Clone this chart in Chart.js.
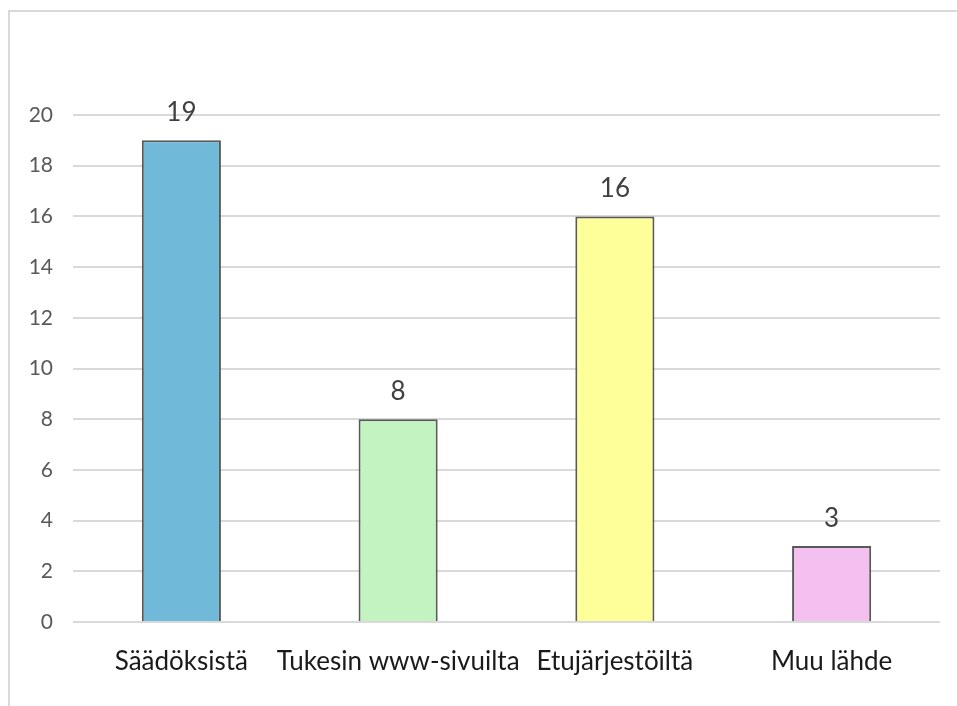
<!DOCTYPE html>
<html>
<head>
<meta charset="utf-8">
<script src="https://cdn.jsdelivr.net/npm/chart.js@4"></script>
<style>
  html, body { margin: 0; padding: 0; background: #fff; }
  #frame { position: absolute; left: 8px; top: 10px; right: -4px; bottom: -4px;
           border-top: 2px solid #d9d9d9; border-left: 2px solid #d9d9d9; }
  #wrap { position: absolute; left: 0; top: 0; width: 957px; height: 706px; }
</style>
</head>
<body>
<div id="frame"></div>
<div id="wrap"><canvas id="chart"></canvas></div>
<script>
var categories = ['Säädöksistä', 'Tukesin www-sivuilta', 'Etujärjestöiltä', 'Muu lähde'];
var counts = [19, 8, 16, 3];
var barColors = ['#70b9d8', '#c3f3c0', '#ffff99', '#f4c0ef'];
var yTicks = [0, 2, 4, 6, 8, 10, 12, 14, 16, 18, 20];

var fontFamily = 'Lato, "Open Sans", sans-serif';

// value labels above bars
var valueLabels = {
    id: 'valueLabels',
    afterDatasetsDraw: function(chart) {
        var ctx = chart.ctx;
        var meta = chart.getDatasetMeta(0);
        ctx.save();
        ctx.fillStyle = '#404040';
        ctx.font = '26px ' + fontFamily;
        ctx.textAlign = 'center';
        ctx.textBaseline = 'alphabetic';
        meta.data.forEach(function(bar, i) {
            ctx.fillText(counts[i], bar.x, bar.y - 19);
        });
        ctx.restore();
    }
};

new Chart(document.getElementById('chart'), {
    type: 'bar',
    data: {
        labels: categories,
        datasets: [{
            data: counts,
            backgroundColor: barColors,
            borderColor: '#595959',
            borderWidth: 2,
            categoryPercentage: 1,
            barPercentage: 0.365
        }]
    },
    options: {
        responsive: true,
        maintainAspectRatio: false,
        animation: false,
        layout: { padding: { top: 115, right: 17, bottom: 0, left: 0 } },
        plugins: { legend: { display: false }, tooltip: { enabled: false } },
        scales: {
            x: {
                grid: { display: false, drawTicks: false },
                border: { display: false },
                ticks: { color: '#1a1a1a', font: { family: fontFamily, size: 26 }, padding: 24,
                         maxRotation: 0, autoSkip: false },
                afterFit: function(s) { s.height = 84; }
            },
            y: {
                min: 0,
                max: 20,
                afterBuildTicks: function(s) { s.ticks = yTicks.map(function(v) { return { value: v }; }); },
                grid: { color: '#d9d9d9', lineWidth: 2, drawTicks: false },
                border: { display: false },
                ticks: { color: '#595959', font: { family: fontFamily, size: 21 }, padding: 20 },
                afterFit: function(s) { s.width = 73; }
            }
        }
    },
    plugins: [valueLabels]
});
</script>
</body>
</html>
